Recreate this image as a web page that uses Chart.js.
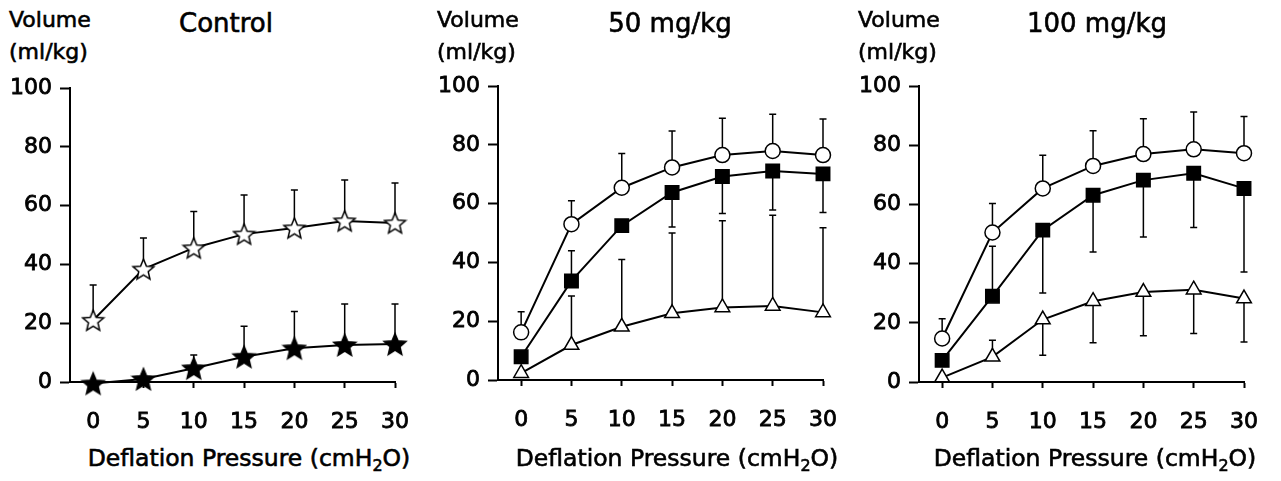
<!DOCTYPE html>
<html>
<head>
<meta charset="utf-8">
<script src="https://cdn.jsdelivr.net/npm/chart.js@4.4.1/dist/chart.umd.min.js"></script>
<style>
  body { margin: 0; background: #fff; width: 1281px; height: 481px; overflow: hidden; position: relative;
         font-family: "DejaVu Sans", sans-serif; color: #000; -webkit-text-stroke: 0.6px #000; }
  .panel { position: absolute; top: 0; width: 430px; height: 481px; }
  .panel canvas { position: absolute; left: 0; top: 0; }
  .lbl { position: absolute; font-size: 22px; line-height: 22px; white-space: nowrap; }
  .ttl { position: absolute; font-size: 26px; line-height: 26px; white-space: nowrap; transform: translateX(-50%); }
  .xt { position: absolute; font-size: 23.5px; line-height: 24px; white-space: nowrap; transform: translateX(-50%); }
  .xt sub { font-size: 16px; line-height: 0; vertical-align: -5px; }
</style>
</head>
<body>
<script>
// x values and axis ticks
const pressure = [0, 5, 10, 15, 20, 25, 30];
const yTicks = [0, 20, 40, 60, 80, 100];

// Control panel
const ctrlOpen = [21, 38.4, 45.6, 50.3, 52.4, 54.8, 54.1];
const ctrlOpenErr = [33, 49, 58, 63.6, 65.3, 68.7, 67.7];
const ctrlFilled = [-0.5, 1, 4.7, 8.6, 11.5, 12.6, 12.9];
const ctrlFilledErr = [null, null, 9.2, 19, 24, 26.5, 26.5];

// 50 mg/kg panel
const d50Circle = [16.2, 53, 65.4, 72.3, 76.5, 77.9, 76.5];
const d50CircleErr = [23.2, 61, 77, 84.7, 89, 90.4, 88.8];
const d50Square = [7.9, 33.7, 52.5, 63.8, 69.2, 71.1, 70.1];
const d50SquareErr = [null, 44, null, 52, 56.6, 57.8, 57];
const d50Tri = [2.3, 11.9, 18.1, 22.7, 24.7, 25.2, 23];
const d50TriErr = [null, 28.6, 41, 50, 54.2, 56, 51.8];

// 100 mg/kg panel
const d100Circle = [14.7, 50.5, 65.4, 73, 77, 78.6, 77.3];
const d100CircleErr = [21.4, 60.3, 76.6, 84.9, 88.9, 91.2, 89.7];
const d100Square = [7.3, 29, 51.3, 63.1, 68.2, 70.5, 65.4];
const d100SquareErr = [null, 45.9, 30.1, 43.9, 49, 52.2, 37.2];
const d100Tri = [1.5, 8.5, 21.1, 27.3, 30.4, 31.2, 28.2];
const d100TriErr = [null, 14.1, 9, 13.3, 15.6, 16.4, 13.5];

function starImage(fill, size) {
  const c = document.createElement("canvas");
  c.width = c.height = size;
  const g = c.getContext("2d");
  const r1 = size / 2 - 1.5, r2 = r1 * 0.45, cx = size / 2, cy = size / 2 + 1;
  g.beginPath();
  for (let i = 0; i < 10; i++) {
    const r = i % 2 ? r2 : r1;
    const a = -Math.PI / 2 + i * Math.PI / 5;
    g.lineTo(cx + r * Math.cos(a), cy + r * Math.sin(a));
  }
  g.closePath();
  g.fillStyle = fill;
  g.fill();
  g.lineWidth = 1.5;
  g.strokeStyle = "#000";
  g.stroke();
  return c;
}

const openStar = starImage("#fff", 25);
const blackStar = starImage("#000", 26);

const errorBars = {
  id: "errorBars",
  beforeDatasetsDraw(chart) {
    const { ctx, scales: { x, y } } = chart;
    ctx.save();
    ctx.strokeStyle = "#000";
    ctx.lineWidth = 1.5;
    chart.data.datasets.forEach(ds => {
      (ds.errEnd || []).forEach((e, i) => {
        if (e == null) return;
        const px = x.getPixelForValue(ds.data[i].x);
        const p0 = y.getPixelForValue(ds.data[i].y);
        const p1 = y.getPixelForValue(e);
        ctx.beginPath();
        ctx.moveTo(px, p0);
        ctx.lineTo(px, p1);
        ctx.moveTo(px - 3.5, p1);
        ctx.lineTo(px + 3.5, p1);
        ctx.stroke();
      });
    });
    ctx.restore();
  }
};

function series(vals, err, style, fill, radius) {
  return {
    data: pressure.map((p, i) => ({ x: p, y: vals[i] })),
    errEnd: err,
    borderColor: "#000",
    borderWidth: 2,
    pointStyle: style,
    pointRadius: radius,
    pointBackgroundColor: fill,
    pointBorderColor: "#000",
    pointBorderWidth: 1.5,
    tension: 0,
    clip: false
  };
}

const panels = [
  { left: 0, title: "Control", titleX: 226, xtX: 249, top: 88, bottom: 99, right: 20,
    datasets: [series(ctrlOpen, ctrlOpenErr, openStar, "#fff", 10),
               series(ctrlFilled, ctrlFilledErr, blackStar, "#000", 10)] },
  { left: 428, title: "50 mg/kg", titleX: 242, xtX: 249, top: 86, bottom: 101, right: 23,
    datasets: [series(d50Tri, d50TriErr, "triangle", "#fff", 8.5),
               series(d50Square, d50SquareErr, "rect", "#000", 9.5),
               series(d50Circle, d50CircleErr, "circle", "#fff", 7.5)] },
  { left: 849, title: "100 mg/kg", titleX: 248, xtX: 246, top: 86, bottom: 99, right: 22,
    datasets: [series(d100Tri, d100TriErr, "triangle", "#fff", 8.5),
               series(d100Square, d100SquareErr, "rect", "#000", 9.5),
               series(d100Circle, d100CircleErr, "circle", "#fff", 7.5)] }
];

const tickOpts = {
  color: "#000",
  font: { family: "DejaVu Sans", size: 22 },
  textStrokeColor: "#000",
  textStrokeWidth: 0.8
};

panels.forEach(p => {
  const div = document.createElement("div");
  div.className = "panel";
  div.style.left = p.left + "px";
  div.innerHTML =
    '<div class="lbl" style="left:9px;top:9px">Volume</div>' +
    '<div class="lbl" style="left:9px;top:41px">(ml/kg)</div>' +
    '<div class="ttl" style="left:' + p.titleX + 'px;top:10px">' + p.title + '</div>' +
    '<div class="xt" style="left:' + p.xtX + 'px;top:446px">Deflation Pressure (cmH<sub>2</sub>O)</div>';
  const canvas = document.createElement("canvas");
  canvas.width = 430;
  canvas.height = 481;
  div.appendChild(canvas);
  document.body.appendChild(div);

  new Chart(canvas.getContext("2d"), {
    type: "line",
    data: { datasets: p.datasets },
    options: {
      responsive: false,
      animation: false,
      layout: { padding: { top: p.top, right: p.right, left: 0, bottom: 0 } },
      plugins: { legend: { display: false }, tooltip: { enabled: false } },
      scales: {
        x: {
          type: "linear", min: -2.3, max: 30,
          afterBuildTicks: s => { s.ticks = pressure.map(v => ({ value: v })); },
          afterFit: s => { s.height = p.bottom; },
          ticks: Object.assign({ padding: 21, maxRotation: 0 }, tickOpts),
          grid: { drawOnChartArea: false, tickLength: 6, tickColor: "#000", tickWidth: 2 },
          border: { color: "#000", width: 2 }
        },
        y: {
          min: 0, max: 100,
          afterBuildTicks: s => { s.ticks = yTicks.map(v => ({ value: v })); },
          afterFit: s => { s.width = 70; },
          ticks: Object.assign({ padding: 8 }, tickOpts),
          grid: { drawOnChartArea: false, tickLength: 10, tickColor: "#000", tickWidth: 2 },
          border: { color: "#000", width: 2 }
        }
      }
    },
    plugins: [errorBars]
  });
});
</script>
</body>
</html>
